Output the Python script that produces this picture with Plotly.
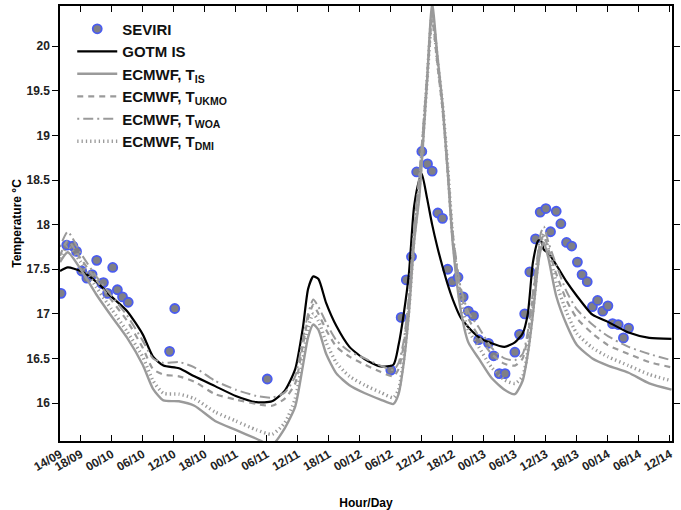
import plotly.graph_objects as go

# ---- SEVIRI skin temperature observations (hours since 00:00 on day 9, degC)
seviri_hours = [14.2, 15.3, 16.5, 17.2, 18.2, 19.2, 20.2, 21.1, 22.1, 22.4, 23.2,
                24.2, 25.1, 26.1, 27.2, 35.2, 36.2, 54.1,
                78.0, 80.0, 81.0, 82.0, 83.0, 84.0, 85.1, 86.0, 87.1, 88.0,
                89.0, 89.9, 91.0, 92.0, 93.0, 94.0, 95.0, 96.9, 97.9, 99.0,
                100.1, 102.0, 102.9, 103.9, 104.9, 106.0, 106.9, 108.0, 108.9,
                110.0, 110.9, 112.0, 113.0, 114.1, 115.0, 116.0, 117.0, 118.0,
                119.0, 120.0, 120.9, 122.0, 123.0, 124.0]
seviri_temp = [17.23, 17.77, 17.76, 17.70, 17.48, 17.40, 17.44, 17.60, 17.34, 17.35, 17.23,
               17.52, 17.27, 17.19, 17.13, 16.58, 17.06, 16.27,
               16.37, 16.96, 17.38, 17.64, 18.59, 18.82, 18.68, 18.60, 18.13, 18.07,
               17.50, 17.36, 17.41, 17.19, 17.03, 16.98, 16.71, 16.67, 16.53, 16.33,
               16.33, 16.57, 16.77, 17.00, 17.47, 17.84, 18.14, 18.18, 17.92,
               18.15, 18.01, 17.80, 17.76, 17.58, 17.44, 17.36, 17.08, 17.15,
               17.03, 17.09, 16.89, 16.88, 16.73, 16.84]

# ---- model output times (hours since 00:00 on day 9)
model_hours = [14, 15.5, 18, 21, 24, 27, 30, 32, 34, 37, 40, 44, 48, 52, 55, 57.5,
               59.5, 61, 62, 63, 64, 65.5, 67.5, 70, 73, 76, 78.5, 79.5, 80.5, 81.5,
               82.5, 83.5, 84, 85, 86, 87, 88, 89, 90, 91.5, 93, 95, 97.5, 100, 102,
               103.5, 104.5, 105.5, 106.5, 107, 107.6, 108.5, 110, 112, 114, 117,
               120, 124, 128, 132.3]

gotm_is = [17.48, 17.52, 17.48, 17.36, 17.19, 17.03, 16.77, 16.52, 16.42, 16.39, 16.30,
           16.19, 16.08, 16.01, 16.02, 16.14, 16.38, 16.85, 17.28, 17.42, 17.39, 17.12,
           16.86, 16.63, 16.49, 16.41, 16.43, 16.65, 17.00, 17.45, 18.20, 18.50, 18.57,
           18.30, 18.00, 17.75, 17.53, 17.33, 17.16, 16.96, 16.85, 16.74, 16.67, 16.63,
           16.68, 16.78, 17.00, 17.58, 17.82, 17.83, 17.72, 17.68, 17.55, 17.36, 17.20,
           16.99, 16.91, 16.79, 16.73, 16.72]

ecmwf_is = [17.58, 17.69, 17.50, 17.22, 16.97, 16.73, 16.43, 16.16, 16.03, 16.02, 15.97,
            15.80, 15.70, 15.60, 15.53, 15.72, 15.96, 16.42, 16.74, 16.88, 16.82, 16.55,
            16.33, 16.20, 16.11, 16.04, 15.99, 16.10, 16.45, 17.01, 17.80, 18.30, 18.70,
            19.60, 20.48, 19.90, 19.35, 18.60, 17.78, 17.05, 16.68, 16.50, 16.28, 16.15,
            16.10, 16.25, 16.55, 17.00, 17.55, 17.72, 17.80, 17.62, 17.20, 16.88, 16.65,
            16.50, 16.42, 16.34, 16.22, 16.15]

ecmwf_ukmo = [17.65, 17.82, 17.62, 17.38, 17.15, 16.92, 16.62, 16.38, 16.32, 16.30, 16.24,
              16.10, 16.04, 15.99, 15.97, 16.05, 16.22, 16.65, 16.95, 17.10, 17.00, 16.82,
              16.63, 16.52, 16.43, 16.35, 16.30, 16.38, 16.65, 17.15, 17.90, 18.50, 18.85,
              19.60, 20.30, 19.80, 19.30, 18.60, 17.85, 17.25, 16.95, 16.75, 16.55, 16.44,
              16.42, 16.50, 16.75, 17.20, 17.65, 17.82, 17.88, 17.72, 17.45, 17.15, 16.95,
              16.78, 16.65, 16.55, 16.46, 16.40]

ecmwf_woa = [17.75, 17.92, 17.68, 17.42, 17.20, 16.98, 16.70, 16.50, 16.45, 16.46, 16.40,
             16.25, 16.15, 16.08, 16.06, 16.12, 16.30, 16.72, 17.00, 17.16, 17.08, 16.90,
             16.70, 16.58, 16.50, 16.42, 16.37, 16.45, 16.70, 17.20, 17.95, 18.55, 18.90,
             19.65, 20.40, 19.85, 19.35, 18.65, 17.90, 17.30, 17.02, 16.85, 16.62, 16.50,
             16.48, 16.55, 16.80, 17.25, 17.70, 17.90, 17.98, 17.80, 17.55, 17.25, 17.05,
             16.88, 16.75, 16.63, 16.55, 16.48]

ecmwf_dmi = [17.62, 17.76, 17.58, 17.30, 17.05, 16.80, 16.52, 16.25, 16.11, 16.10, 16.05,
             15.90, 15.80, 15.70, 15.65, 15.78, 16.05, 16.50, 16.85, 17.00, 16.92, 16.68,
             16.45, 16.30, 16.20, 16.12, 16.06, 16.15, 16.50, 17.05, 17.85, 18.40, 18.80,
             19.60, 20.35, 19.85, 19.35, 18.65, 17.85, 17.15, 16.82, 16.63, 16.40, 16.26,
             16.22, 16.30, 16.58, 17.05, 17.60, 17.80, 17.90, 17.72, 17.35, 17.02, 16.78,
             16.62, 16.52, 16.42, 16.32, 16.25]

# ---- axis tick labels (hour/day)
tick_labels = ["14/09", "18/09", "00/10", "06/10", "12/10", "18/10", "00/11", "06/11",
               "12/11", "18/11", "00/12", "06/12", "12/12", "18/12", "00/13", "06/13",
               "12/13", "18/13", "00/14", "06/14", "12/14"]
tick_hours = [int(s[:2]) + 24 * (int(s[3:]) - 9) for s in tick_labels]
y_ticks = [16, 16.5, 17, 17.5, 18, 18.5, 19, 19.5, 20]

FONT = "Liberation Sans"
GRAY = "#9a9a9a"

fig = go.Figure()

fig.add_trace(go.Scatter(
    x=seviri_hours, y=seviri_temp, mode="markers", name="SEVIRI",
    marker=dict(size=9, color="#7f7f86", line=dict(color="#4a5cf0", width=1.8)),
))
fig.add_trace(go.Scatter(
    x=model_hours, y=gotm_is, mode="lines", name="GOTM IS",
    line=dict(color="black", width=2.2, shape="spline", smoothing=0.6),
))
fig.add_trace(go.Scatter(
    x=model_hours, y=ecmwf_is, mode="lines", name="ECMWF, T<sub>IS</sub>",
    line=dict(color=GRAY, width=2.4, shape="spline", smoothing=0.6),
))
fig.add_trace(go.Scatter(
    x=model_hours, y=ecmwf_ukmo, mode="lines", name="ECMWF, T<sub>UKMO</sub>",
    line=dict(color=GRAY, width=2.2, dash="6px,5px", shape="spline", smoothing=0.6),
))
fig.add_trace(go.Scatter(
    x=model_hours, y=ecmwf_woa, mode="lines", name="ECMWF, T<sub>WOA</sub>",
    line=dict(color=GRAY, width=2.0, dash="2px,4px,10px,4px", shape="spline", smoothing=0.6),
))
fig.add_trace(go.Scatter(
    x=model_hours, y=ecmwf_dmi, mode="lines", name="ECMWF, T<sub>DMI</sub>",
    line=dict(color=GRAY, width=3.4, dash="1.3px,3px", shape="spline", smoothing=0.6),
))

fig.update_layout(
    width=681, height=510,
    margin=dict(l=60, r=1, t=6, b=69),
    paper_bgcolor="white", plot_bgcolor="white",
    font=dict(family=FONT, size=12, color="black", weight="bold"),
    showlegend=True,
    legend=dict(
        x=0.02, y=0.985, xanchor="left", yanchor="top",
        bgcolor="rgba(0,0,0,0)", borderwidth=0,
        font=dict(family=FONT, size=15, color="#111", weight="bold"),
        itemwidth=40, tracegroupgap=0,
    ),
)

fig.update_xaxes(
    range=[14, 132.4], tickmode="array", tickvals=tick_hours, ticktext=tick_labels,
    tickangle=-30, ticks="inside", ticklen=6, tickwidth=1.2, tickcolor="black",
    showline=True, linecolor="black", linewidth=1.5, mirror="ticks",
    showgrid=False, zeroline=False,
    tickfont=dict(family=FONT, size=12, color="#222", weight="bold"),
    title=dict(text="Hour/Day", font=dict(family=FONT, size=12, weight="bold"), standoff=26),
)
fig.update_yaxes(
    range=[15.575, 20.45], tickmode="array", tickvals=y_ticks,
    ticks="outside", ticklen=6, tickwidth=1.2, tickcolor="black",
    showline=True, linecolor="black", linewidth=1.5, mirror="ticks",
    showgrid=False, zeroline=False,
    tickfont=dict(family=FONT, size=12, color="#222", weight="bold"),
    title=dict(text="Temperature °C", font=dict(family=FONT, size=12, weight="bold"), standoff=2),
)

fig.write_html("out.html")
